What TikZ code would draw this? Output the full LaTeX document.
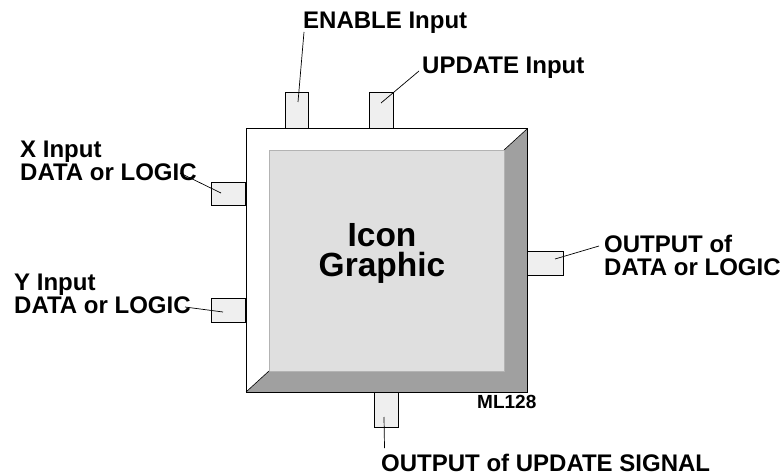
\documentclass[tikz,border=0pt]{standalone}
\usepackage{fontspec}
\setmainfont{Liberation Sans}
\definecolor{pinfill}{HTML}{EFEFEF}
\definecolor{facefill}{HTML}{DFDFDF}
\definecolor{bevdark}{HTML}{A0A0A0}
\begin{document}
\begin{tikzpicture}[x=1pt,y=-1pt,
  pin/.style={draw=black, line width=0.8pt, fill=pinfill, inner sep=0pt},
  lbl/.style={font=\fontsize{24}{23.5}\selectfont\bfseries, inner sep=0pt, align=left},
  lead/.style={draw=black, line width=0.7pt}]
\useasboundingbox (0,0) rectangle (784,476);
% pins
\node[pin, minimum width=23pt, minimum height=36pt, anchor=south] (pen) at (296.5,129) {};
\node[pin, minimum width=24pt, minimum height=36pt, anchor=south] (pup) at (381,129) {};
\node[pin, minimum width=34pt, minimum height=23pt, anchor=east] (px) at (246,193.5) {};
\node[pin, minimum width=34pt, minimum height=24pt, anchor=east] (py) at (246,310) {};
\node[pin, minimum width=36pt, minimum height=24pt, anchor=west] (pout) at (527,263) {};
\node[pin, minimum width=24pt, minimum height=35pt, anchor=north] (pupd) at (386,392) {};
% box
\coordinate (otl) at (246,129);
\coordinate (otr) at (527,129);
\coordinate (obr) at (527,392);
\coordinate (obl) at (246,392);
\coordinate (itl) at (269,150);
\coordinate (itr) at (504,150);
\coordinate (ibr) at (504,371);
\coordinate (ibl) at (269,371);
\fill[white] (otl) rectangle (obr);
\fill[bevdark] (otr) -- (obr) -- (obl) -- (ibl) -- (ibr) -- (itr) -- cycle;
\draw[fill=facefill, draw=bevdark!80, line width=0.6pt] (itl) rectangle (ibr);
\draw[line width=0.6pt] (otr) -- (itr);
\draw[line width=0.6pt] (obl) -- (ibl);
\draw[line width=1pt] (otl) rectangle (obr);
\node[font=\fontsize{33.5}{30}\selectfont\bfseries, inner sep=0pt, align=center, anchor=north] (icon) at (382,223) {Icon\\Graphic};
\node[font=\fontsize{19}{19}\selectfont\bfseries, inner sep=0pt, anchor=base west] (ml) at (477,408) {ML128};
% labels
\node[lbl, anchor=base west] (len) at (303,28.3) {ENABLE Input};
\node[lbl, anchor=base west] (lup) at (422,74) {UPDATE Input};
\node[lbl, anchor=north west] (lx) at (20,140.5) {X Input\\DATA or LOGIC};
\node[lbl, anchor=north west] (ly) at (14,273.5) {Y Input\\DATA or LOGIC};
\node[lbl, anchor=north west] (lout) at (604,234.5) {OUTPUT of\\DATA or LOGIC};
\node[lbl, anchor=base west] (lupd) at (381,471) {OUTPUT of UPDATE SIGNAL};
% leader ends
\coordinate (a1) at (304,32);  \coordinate (b1) at (298,102);
\coordinate (a2) at (419,71);  \coordinate (b2) at (381,103);
\coordinate (a3) at (180,173); \coordinate (b3) at (221,193);
\coordinate (a4) at (185,307); \coordinate (b4) at (223,312);
\coordinate (a5) at (599,246); \coordinate (b5) at (555,259);
\coordinate (a6) at (384.5,448); \coordinate (b6) at (384,417);
\draw[lead] (a1) -- (b1);
\draw[lead] (a2) -- (b2);
\draw[lead] (a3) -- (b3);
\draw[lead] (a4) -- (b4);
\draw[lead] (a5) -- (b5);
\draw[lead] (a6) -- (b6);
\end{tikzpicture}
\end{document}
